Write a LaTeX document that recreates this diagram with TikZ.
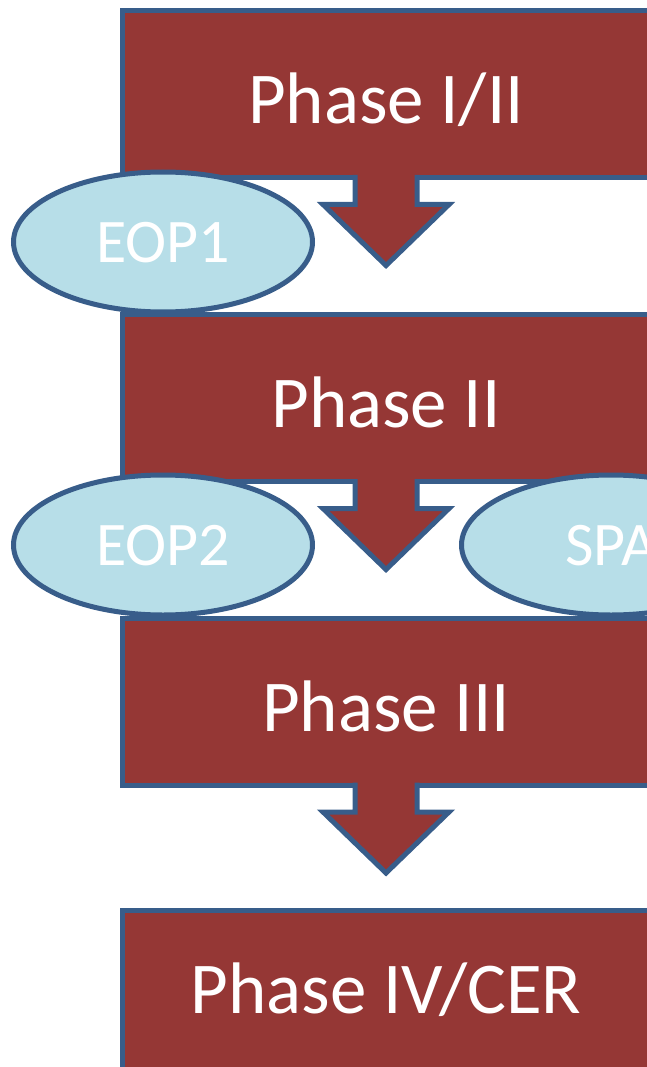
\documentclass[tikz,border=0pt]{standalone}
\usepackage{fontspec}
\setmainfont{Carlito}
\usetikzlibrary{shapes.geometric,calc}
\definecolor{phasered}{HTML}{953735}
\definecolor{edgeblue}{HTML}{385D8A}
\definecolor{eopblue}{HTML}{B7DEE8}
\tikzset{
  phase/.style={draw=edgeblue, line width=5pt, fill=phasered, text=white,
    minimum width=528pt, minimum height=167pt, inner sep=0pt, outer sep=0pt,
    font=\fontsize{73}{88}\selectfont, text height=59pt, text depth=0pt},
  eop/.style={ellipse, draw=edgeblue, line width=5pt, fill=eopblue, text=white,
    minimum width=299pt, minimum height=140pt, inner sep=0pt, outer sep=0pt,
    font=\fontsize{62}{74}\selectfont, text height=40pt, text depth=0pt},
  blockarrow/.style={draw=edgeblue, line width=5pt, fill=phasered}
}
\begin{document}
\begin{tikzpicture}[x=1pt,y=-1pt]
      \useasboundingbox (0,0) rectangle (647,1067);
      \clip (0,0) rectangle (647,1067);
      \path
        (386,94) node[phase] (p1){Phase I/II}
        (386,398) node[phase] (p2){Phase II}
        (386,701.5) node[phase] (p3){Phase III}
        (386,993.5) node[phase, text height=39pt] (p4){Phase IV/CER};
      \foreach \b in {p1,p2,p3}
        \path[blockarrow] ($(\b.south)+(-31,-2.5)$) -- ($(\b.south)+(-31,27)$)
          -- ($(\b.south)+(-63,27)$) -- ($(\b.south)+(0,88)$)
          -- ($(\b.south)+(63,27)$) -- ($(\b.south)+(31,27)$)
          -- ($(\b.south)+(31,-2.5)$);
      \path
        (163,242) node[eop] (e1){EOP1}
        (163,545) node[eop] (e2){EOP2}
        (611,545) node[eop] (s1){SPA};
    \end{tikzpicture}
\end{document}
